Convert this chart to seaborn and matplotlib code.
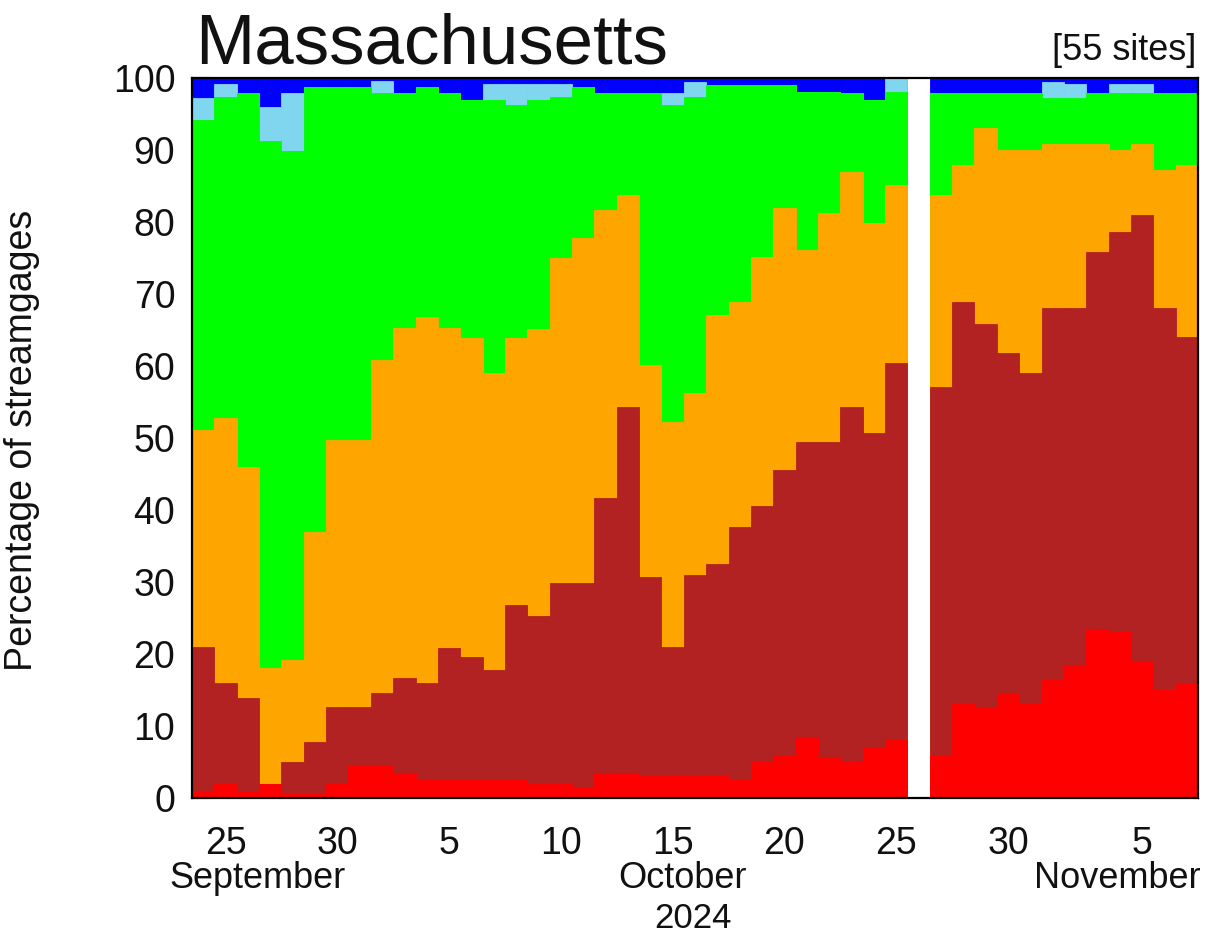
import numpy as np
import pandas as pd
import matplotlib
matplotlib.use("Agg")
import matplotlib.pyplot as plt
import seaborn as sns
from matplotlib.transforms import blended_transform_factory

# ---------------- data (percentage of streamgages per class, per day) ----------------
dates = pd.date_range("2024-09-24", "2024-11-07", freq="D").strftime("%Y-%m-%d").tolist()
nan = np.nan

low = [1.0, 2.0, 1.0, 2.0, 0.5, 0.5, 2.0, 4.5, 4.5, 3.5, 2.5, 2.5, 2.5, 2.5, 2.5, 2.0,
       2.0, 1.5, 3.5, 3.5, 3.0, 3.0, 3.0, 3.0, 2.5, 5.0, 6.0, 8.5, 5.5, 5.0, 7.0, 8.0,
       nan, 6.0, 13.0, 12.5, 14.5, 13.0, 16.5, 18.5, 23.5, 23.0, 19.0, 15.0, 16.0]
much_below = [20.0, 14.0, 12.9, 0.0, 4.5, 7.3, 10.7, 8.2, 10.1, 13.1, 13.5, 18.3, 17.1, 15.3,
              24.3, 23.3, 27.8, 28.3, 38.2, 50.8, 27.7, 18.0, 28.0, 29.5, 35.2, 35.5, 39.6,
              41.0, 44.0, 49.3, 43.7, 52.4, nan, 51.1, 55.9, 53.4, 47.3, 46.0, 51.5, 49.5,
              52.4, 55.6, 62.0, 53.0, 48.0]
below = [30.1, 36.8, 32.1, 16.1, 14.2, 29.1, 37.0, 37.0, 46.2, 48.7, 50.8, 44.5, 44.3, 41.2,
         37.1, 39.9, 45.2, 48.0, 40.0, 29.5, 29.4, 31.2, 25.2, 34.6, 31.2, 34.7, 36.3, 26.6,
         31.7, 32.6, 29.1, 24.7, nan, 26.7, 19.0, 27.1, 28.2, 31.0, 22.9, 22.9, 15.0, 11.4,
         9.9, 19.2, 23.9]
normal = [43.1, 44.6, 51.9, 73.1, 70.6, 61.9, 49.1, 49.1, 37.1, 32.6, 32.0, 32.6, 33.1, 38.0,
          32.4, 31.8, 22.4, 21.0, 16.2, 14.1, 37.8, 44.1, 41.2, 31.9, 30.1, 23.8, 17.1, 22.0,
          16.9, 11.0, 17.2, 13.0, nan, 14.1, 10.0, 4.9, 7.9, 7.9, 6.3, 6.3, 7.0, 7.9, 7.0,
          10.7, 10.0]
above = [3.0, 1.7, 0.0, 4.8, 8.1, 0.0, 0.0, 0.0, 1.7, 0.0, 0.0, 0.0, 0.0, 2.1, 2.8, 2.1,
         1.7, 0.0, 0.0, 0.0, 0.0, 1.6, 2.0, 0.0, 0.0, 0.0, 0.0, 0.0, 0.0, 0.0, 0.0, 1.9,
         nan, 0.0, 0.0, 0.0, 0.0, 0.0, 2.2, 1.9, 0.0, 1.2, 1.2, 0.0, 0.0]
much_above = [2.8, 0.9, 2.1, 4.0, 2.1, 1.2, 1.2, 1.2, 0.4, 2.1, 1.2, 2.1, 3.0, 0.9, 0.9, 0.9,
              0.9, 1.2, 2.1, 2.1, 2.1, 2.1, 0.6, 1.0, 1.0, 1.0, 1.0, 1.9, 1.9, 2.1, 3.0, 0.0,
              nan, 2.1, 2.1, 2.1, 2.1, 2.1, 0.6, 0.9, 2.1, 0.9, 0.9, 2.1, 2.1]

classes = ["Low", "Much below normal", "Below normal", "Normal",
           "Above normal", "Much above normal"]
class_colors = ["#ff0000", "#b22222", "#ffa500", "#00ff00", "#7fd6ee", "#0000ff"]

tick_dates = ["2024-09-25", "2024-09-30", "2024-10-05", "2024-10-10", "2024-10-15",
              "2024-10-20", "2024-10-25", "2024-10-30", "2024-11-05"]
tick_labels = ["25", "30", "5", "10", "15", "20", "25", "30", "5"]
month_labels = ["September", "October", "November"]
year_label = "2024"
state_name = "Massachusetts"
site_label = "[55 sites]"
y_ticks = list(range(0, 101, 10))

# ---------------- build table ----------------
df = pd.DataFrame({"date": dates, "Low": low, "Much below normal": much_below,
                   "Below normal": below, "Normal": normal,
                   "Above normal": above, "Much above normal": much_above})
cum = df[classes].cumsum(axis=1)
for c in classes:
    df["cum_" + c] = cum[c]

# ---------------- figure ----------------
sns.set_theme(style="white")
plt.rcParams["font.family"] = ["Liberation Sans", "DejaVu Sans"]
plt.rcParams["text.color"] = "#111111"
plt.rcParams["xtick.color"] = "#111111"
plt.rcParams["ytick.color"] = "#111111"

W, H = 1205, 936
fig = plt.figure(figsize=(W / 100, H / 100), dpi=100)
ax = fig.add_axes([192 / W, 1 - 798 / H, (1198 - 192) / W, (798 - 78) / H])

for c, col in zip(reversed(classes), reversed(class_colors)):
    sns.barplot(data=df, x="date", y="cum_" + c, order=dates, color=col,
                saturation=1, width=1.0, errorbar=None, edgecolor=col,
                linewidth=0.6, ax=ax)

ax.set_xlim(-0.5, len(dates) - 0.5)
ax.set_ylim(0, 100)
ax.set_xlabel("")
ax.set_ylabel("")

ax.set_yticks(y_ticks)
ax.set_yticklabels([str(v) for v in y_ticks])
ax.tick_params(axis="y", direction="in", length=14, width=1.5, color="black",
               labelcolor="#111111", labelsize=27, pad=12, left=True, right=False)
ax.set_xticks([dates.index(d) for d in tick_dates])
ax.set_xticklabels(tick_labels)
ax.tick_params(axis="x", length=0, labelsize=27, pad=20, labelcolor="#111111")

for s in ax.spines.values():
    s.set_visible(True)
    s.set_color("black")
    s.set_linewidth(1.6)

# month / year labels placed in pixel rows below the axis
tr = blended_transform_factory(ax.transData, ax.transAxes)
month_pos = [2.45, 21.45, 40.9]
month_y = (798 - 888) / 720
year_y = (798 - 928.5) / 720
for lab, xp in zip(month_labels, month_pos):
    ax.text(xp, month_y, lab, transform=tr, ha="center", va="baseline", fontsize=26)
ax.text(21.9, year_y, year_label, transform=tr, ha="center", va="baseline", fontsize=25)

fig.text(195 / W, 1 - 63 / H, state_name, fontsize=51, ha="left", va="baseline")
fig.text(1196 / W, 1 - 60 / H, site_label, fontsize=26, ha="right", va="baseline")
fig.text(22 / W, 1 - 440 / H, "Percentage of streamgages", rotation=90,
         fontsize=27, ha="center", va="center")

fig.savefig("out.png", dpi=100)
